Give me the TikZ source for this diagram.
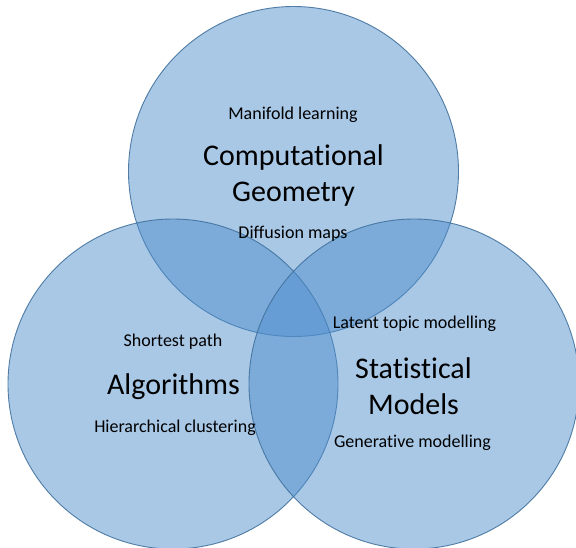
\documentclass[tikz,border=0pt]{standalone}
\usepackage{fontspec}
\setmainfont{Carlito}[RawFeature={-liga;-clig;-calt}]
\usepackage{xcolor}
\usetikzlibrary{positioning}
\definecolor{vennFill}{RGB}{78,142,205}
\definecolor{vennLine}{RGB}{65,113,156}

\begin{document}
\begin{tikzpicture}[
    x=1pt, y=-1pt,
    set/.style={circle, draw=vennLine, line width=0.9pt, fill=vennFill, fill opacity=0.49, draw opacity=0.9, minimum size=330pt, inner sep=0pt},
    field/.style={align=center, inner sep=0pt, font=\fontsize{30}{36}\selectfont},
    topic/.style={inner sep=0pt, font=\fontsize{18}{22}\selectfont}
  ]
    \useasboundingbox (0,0) rectangle (576,547);

    % the three sets
    \node[set] (geom) at (293.5,171.5) {};
    \node[set] (algo) at (173,384) {};
    \node[set] (stat) at (414,384) {};

    % set names
    \node[field] (geomname) at (293.5,175.5) {Computational\\Geometry};
    \node[field] (algoname) at (173.5,387) {Algorithms};
    \node[field] (statname) at (413.5,386.5) {Statistical\\Models};

    % example topics
    \node[topic] (manifold) at (293,114.5) {Manifold learning};
    \node[topic] (diffusion) at (293,234) {Diffusion maps};
    \node[topic] (shortest) at (173,342) {Shortest path};
    \node[topic] (hierarch) at (175,427.5) {Hierarchical clustering};
    \node[topic] (latent) at (414.5,323.5) {Latent topic modelling};
    \node[topic] (generative) at (412.5,443) {Generative modelling};
  \end{tikzpicture}
\end{document}
